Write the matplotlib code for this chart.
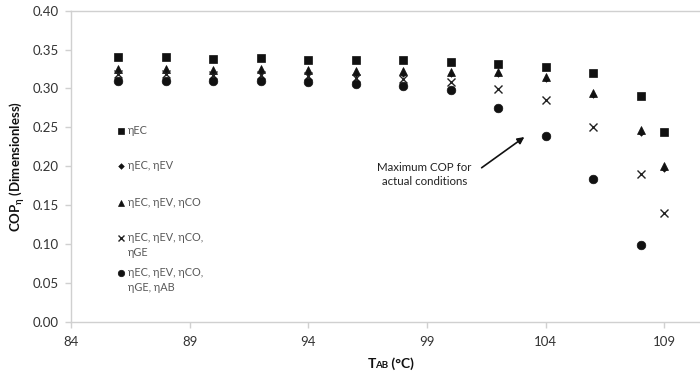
import numpy as np
import matplotlib
matplotlib.use("Agg")
import matplotlib.pyplot as plt

# Absorber temperature (°C)
t_ab = [86, 88, 90, 92, 94, 96, 98, 100, 102, 104, 106, 108, 109]

# COP with progressively more efficiencies included
cop_ec = [0.340, 0.340, 0.338, 0.339, 0.337, 0.336, 0.336, 0.334, 0.332, 0.328, 0.320, 0.290, 0.244]
cop_ec_ev = [0.321, 0.321, 0.320, 0.321, 0.320, 0.319, 0.319, 0.318, 0.318, 0.312, 0.291, 0.243, 0.197]
cop_ec_ev_co = [0.325, 0.325, 0.324, 0.325, 0.324, 0.323, 0.322, 0.321, 0.321, 0.315, 0.294, 0.246, 0.200]
cop_ec_ev_co_ge = [0.318, 0.318, 0.317, 0.317, 0.316, 0.314, 0.312, 0.308, 0.299, 0.285, 0.251, 0.190, 0.140]
cop_all = [0.310, 0.310, 0.309, 0.309, 0.308, 0.306, 0.303, 0.298, 0.275, 0.239, 0.183, 0.099, np.nan]

labels = ["ηEC", "ηEC, ηEV", "ηEC, ηEV, ηCO", "ηEC, ηEV, ηCO,\nηGE", "ηEC, ηEV, ηCO,\nηGE, ηAB"]
x_ticks = [84, 89, 94, 99, 104, 109]
y_ticks = [0.00, 0.05, 0.10, 0.15, 0.20, 0.25, 0.30, 0.35, 0.40]

plt.rcParams["font.family"] = ["Lato", "DejaVu Sans"]
plt.rcParams["mathtext.default"] = "regular"

W, H = 700, 375
fig = plt.figure(figsize=(W / 100, H / 100), dpi=100)
ax = fig.add_axes([71 / W, 1 - 321.7 / H, (W - 71) / W, (321.7 - 10.7) / H])

ink = "#111111"
series = [
    (cop_ec, dict(marker="s", ms=6.0, mfc=ink, mec=ink, mew=0.5)),
    (cop_ec_ev, dict(marker="D", ms=4.0, mfc=ink, mec="white", mew=0.8)),
    (cop_ec_ev_co, dict(marker="^", ms=6.2, mfc=ink, mec=ink, mew=0.5)),
    (cop_ec_ev_co_ge, dict(marker="x", ms=6.0, mfc="none", mec="#222222", mew=1.0)),
    (cop_all, dict(marker="o", ms=6.2, mfc=ink, mec=ink, mew=0.5)),
]
for vals, style in series:
    ax.plot(t_ab, vals, linestyle="none", zorder=3, clip_on=False, **style)

ax.set_xlim(84, 110.5)
ax.set_ylim(0, 0.40)
ax.set_xticks(x_ticks)
ax.set_yticks(y_ticks)
ax.set_yticklabels([f"{v:.2f}" for v in y_ticks])

grey = "#d0d0d0"
for side in ("left", "bottom", "top"):
    ax.spines[side].set_color(grey)
    ax.spines[side].set_linewidth(1.0)
ax.spines["right"].set_visible(False)
ax.tick_params(axis="both", colors=grey, labelcolor="#333333", labelsize=9.5,
               length=4, width=1.0, direction="out")
ax.tick_params(axis="x", pad=6)
ax.tick_params(axis="y", pad=5)

ax.set_ylabel(r"COP$_{η}$ (Dimensionless)", fontsize=9.5, fontweight="bold",
              color="#111111", labelpad=4)

# x-axis title: T with small-caps "AB"
t1 = fig.text(368 / W, 1 - 368 / H, "T", fontsize=10, fontweight="bold",
              color="#111111", va="baseline", ha="left")
t2 = ax.annotate("AB", xy=(1, 0), xycoords=t1, xytext=(-0.8, 0), textcoords="offset points",
                 fontsize=7, fontweight="bold", color="#111111", va="bottom", ha="left")
ax.annotate(" (°C)", xy=(1, 0), xycoords=t2, fontsize=10, fontweight="bold",
            color="#111111", va="bottom", ha="left")

# Hand-placed legend at the left of the plot area
legend_rows = [131, 166.5, 202.5, 238, 273]
legend_x = 120.7
for (vals, style), lab, ypx in zip(series, labels, legend_rows):
    st = dict(style)
    st["ms"] = st["ms"] * 0.75
    if st["marker"] == "D":
        st["mec"] = ink
        st["mew"] = 0.4
        st["ms"] = 2.9
    fig.lines.append(plt.Line2D([legend_x / W], [1 - ypx / H], transform=fig.transFigure,
                                linestyle="none", **st))
    fig.text((legend_x + 7) / W, 1 - (ypx - 6) / H, lab, fontsize=7.8, color="#595959",
             va="top", ha="left", linespacing=1.45)

# Callout text and arrow
ax.text(98.9, 0.189, "Maximum COP for\nactual conditions", ha="center", va="center",
        fontsize=8.3, color="#222222", linespacing=1.3)
ax.annotate("", xy=(103.1, 0.2375), xytext=(101.3, 0.198),
            arrowprops=dict(arrowstyle="-|>", color="#111111", lw=1.2,
                            mutation_scale=10, shrinkA=0, shrinkB=0))

fig.savefig("out.png", dpi=100)
